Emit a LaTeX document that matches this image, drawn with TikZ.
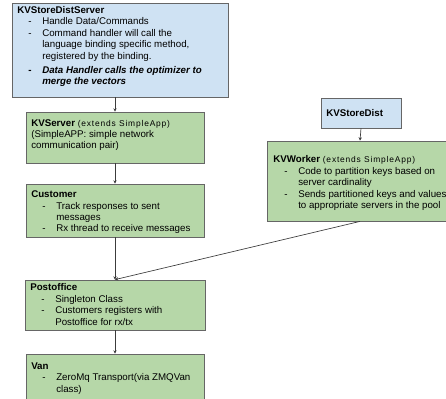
\documentclass[tikz,border=0pt]{standalone}
\usepackage{fontspec}
\setmainfont{Liberation Sans}
\usetikzlibrary{arrows.meta}
\newcommand{\bitem}{\hspace*{8.25pt}\makebox[10.5pt][l]{-}}
\newcommand{\bcont}{\hspace*{18.75pt}}
\newcommand{\smalltxt}[1]{{\fontsize{6.3}{6.5}\selectfont\addfontfeature{LetterSpace=10}#1}}
\begin{document}
\begin{tikzpicture}[x=0.75pt,y=0.75pt,yscale=-1,xscale=1,
	box/.style={draw={rgb, 255:red, 102; green, 102; blue, 102 },line width=0.6pt,inner sep=0pt,rectangle},
	bluebox/.style={box,fill={rgb, 255:red, 207; green, 226; blue, 243 }},
	greenbox/.style={box,fill={rgb, 255:red, 182; green, 215; blue, 168 }},
	txt/.style={anchor=north west,inner sep=0pt,align=left,font=\fontsize{7.3}{8.6}\selectfont},
	conn/.style={draw={rgb, 255:red, 60; green, 60; blue, 60 },line width=0.5pt,-{Stealth[length=2.5pt,width=2.5pt]}}]
	\useasboundingbox (0,0) rectangle (446,399);
	
	%Shape: Rectangle [KVStoreDistServer]
	\node [bluebox,minimum width=162pt,minimum height=70.5pt] (dserver) at (120,50) {};
	%Shape: Rectangle [KVServer]
	\node [greenbox,minimum width=133.5pt,minimum height=38.25pt] (kvserver) at (115,137.5) {};
	%Shape: Rectangle [Customer]
	\node [greenbox,minimum width=133.5pt,minimum height=39.75pt] (customer) at (115,210.5) {};
	%Shape: Rectangle [Postoffice]
	\node [greenbox,minimum width=135pt,minimum height=37.5pt] (postoffice) at (115,305) {};
	%Shape: Rectangle [Van]
	\node [greenbox,minimum width=133.5pt,minimum height=45pt] (van) at (115,384) {};
	%Shape: Rectangle [KVStoreDist]
	\node [bluebox,minimum width=60pt,minimum height=22.5pt] (kvstoredist) at (361,113) {};
	%Shape: Rectangle [KVWorker]
	\node [greenbox,minimum width=139.5pt,minimum height=60pt] (kvworker) at (360,181) {};
	
	%Straight Lines
	\draw [conn] (dserver.south -| kvserver.north) -- (kvserver.north) ;
	\draw [conn] (kvserver.south) -- (customer.north) ;
	\draw [conn] (customer.south) -- (postoffice.north) ;
	\draw [conn] (postoffice.south) -- (van.north) ;
	\draw [conn] (kvstoredist.south) -- (kvworker.north) ;
	\draw [conn] (kvworker.south) -- (postoffice.north) ;
	
	% Text Node
	\node [txt] (dserverText) at (17,6) {\textbf{KVStoreDistServer}\\
		\bitem Handle Data/Commands\\
		\bitem Command handler will call the\\
		\bcont language binding specific method,\\
		\bcont registered by the binding.\\[2pt]
		\textbf{\bitem}\textbf{\textit{Data Handler calls the optimizer to}}\\
		\bcont \textbf{\textit{merge the vectors}}};
	% Text Node
	\node [txt] (kvserverText) at (31,119) {\textbf{KVServer} \smalltxt{(extends SimpleApp)}\\
		(SimpleAPP: simple network\\
		communication pair)};
	% Text Node
	\node [txt] (customerText) at (31,190.5) {\textbf{Customer}\\
		\bitem Track responses to sent\\
		\bcont messages\\
		\bitem Rx thread to receive messages};
	% Text Node
	\node [txt] (postofficeText) at (30,283.5) {\textbf{Postoffice}\\
		\bitem Singleton Class\\
		\bitem Customers registers with\\
		\bcont Postoffice for rx/tx};
	% Text Node
	\node [txt] (vanText) at (31,362.5) {\textbf{Van}\\
		\bitem ZeroMq Transport(via ZMQVan\\
		\bcont class)};
	% Text Node
	\node [txt] (kvstoredistText) at (326,109.5) {\textbf{KVStoreDist}};
	% Text Node
	\node [txt] (kvworkerText) at (273,155.5) {\textbf{KVWorker} \smalltxt{(extends SimpleApp)}\\
		\bitem Code to partition keys based on\\
		\bcont server cardinality\\
		\bitem Sends partitioned keys and values\\
		\bcont to appropriate servers in the pool};
	
\end{tikzpicture}
\end{document}
